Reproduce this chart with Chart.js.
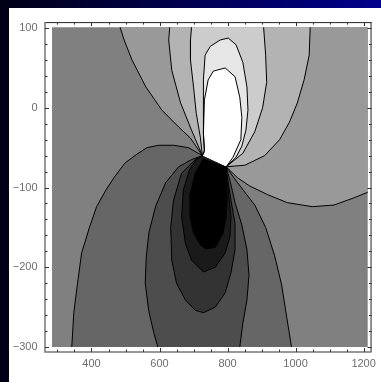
<!DOCTYPE html>
<html>
<head>
<meta charset="utf-8">
<script src="https://cdn.jsdelivr.net/npm/chart.js@4.4.1/dist/chart.umd.min.js"></script>
<style>
html, body { margin: 0; padding: 0; }
body { width: 381px; height: 382px; overflow: hidden; background: linear-gradient(to right, #000016, #00008c); }
#panel { position: absolute; left: 9px; top: 8px; width: 372px; height: 374px; background: #fff; }
</style>
</head>
<body>
<div id="panel"><canvas id="myChart" width="372" height="374"></canvas></div>
<script>
// plotted window, data units
const plotX = [284, 1212];
const plotY = [-300, 101];

// tick positions
const xTicks = [400, 600, 800, 1000, 1200];
const yTicks = [100, 0, -100, -200, -300];
const xMinor = [300, 350, 400, 450, 500, 550, 600, 650, 700, 750, 800, 850, 900, 950, 1000, 1050, 1100, 1150, 1200];
const yMinor = [-300, -280, -260, -240, -220, -200, -180, -160, -140, -120, -100, -80, -60, -40, -20, 0, 20, 40, 60, 80, 100];

// shading for the bands, darkest to lightest
const grays = ['#000000', '#1a1a1a', '#333333', '#4d4d4d', '#666666', '#808080',
               '#999999', '#b3b3b3', '#cccccc', '#e6e6e6', '#ffffff'];

// contour lines, [x, y]
// upper lobe
const line1L = [[484,101],[496,85],[519,60],[560,26],[607,-3],[656,-24],[691,-38],[726,-60]];
const line1R = [[796,-74],[830,-88],[865,-98],[918,-109],[976,-119],[1049,-124],[1113,-122],[1171,-113],[1212,-106]];
const line2L = [[630,101],[627,85],[636,47],[662,6],[694,-28],[723,-57],[726,-60]];
const line2R = [[1043,101],[1040,66],[1025,35],[1005,6],[982,-18],[953,-40],[909,-60],[851,-72],[796,-74]];
const line3L = [[694,101],[691,85],[691,60],[700,26],[708,-7],[720,-37],[726,-60]];
const line3R = [[906,101],[912,66],[915,32],[903,0],[880,-30],[845,-57],[796,-74]];
const loopE = [[726,-60],[732,-55],[729,-32],[729,2],[729,35],[734,66],[749,77],[778,85],[802,87.5],[825,79],[845,57],[857,26],[860,-3],[854,-28],[842,-48],[825,-62],[796,-74]];
const loopF = [[726,-60],[732,-53],[729,-32],[732,10],[743,35],[758,46],[793,50],[822,39],[836,13],[842,-12],[839,-40],[816,-62],[796,-74]];
// lower lobe
const lineGL = [[726,-60],[685,-50],[641,-47],[598,-47],[563,-50],[534,-58],[499,-69],[467,-87],[444,-102],[415,-124],[394,-150],[371,-182],[359,-220],[348,-257],[342,-300]];
const lineGR = [[796,-74],[819,-88],[851,-106],[880,-122],[912,-150],[938,-185],[959,-222],[973,-260],[988,-300]];
const lineHL = [[726,-60],[694,-65],[656,-74],[618,-94],[589,-123],[569,-156],[561,-187],[558,-220],[568,-254],[583,-282],[595,-300]];
const lineHR = [[796,-74],[807,-91],[822,-119],[842,-147],[857,-178],[863,-210],[857,-241],[845,-270],[836,-300]];
const loopI = [[726,-60],[705,-65],[665,-82],[641,-116],[633,-150],[636,-191],[650,-220],[676,-241],[705,-254],[729,-257],[764,-250],[793,-232],[810,-207],[822,-178],[822,-145],[810,-116],[801,-91],[796,-74]];
const loopJ = [[726,-60],[708,-65],[688,-78],[670,-103],[665,-137],[676,-170],[694,-191],[729,-206],[764,-200],[793,-182],[807,-162],[810,-137],[804,-112],[799,-87],[796,-74]];
const loopK = [[729,-64],[705,-82],[691,-107],[690,-137],[700,-157],[720,-172],[737,-177],[764,-175],[787,-157],[796,-137],[799,-112],[796,-87],[796,-74]];

function rev(a) { return a.slice().reverse(); }
function pts(a) { return a.map(p => ({x: p[0], y: p[1]})); }

// filled bands, painted back to front
const bands = [
  [[[plotX[0],plotY[0]],[plotX[1],plotY[0]],[plotX[1],plotY[1]],[plotX[0],plotY[1]]], grays[5]],
  [line1L.concat(line1R, [[plotX[1], plotY[1]]]), grays[6]],
  [line2L.concat(rev(line2R)), grays[7]],
  [line3L.concat(rev(line3R)), grays[8]],
  [loopE, grays[9]],
  [loopF, grays[10]],
  [rev(lineGL).concat(lineGR), grays[4]],
  [rev(lineHL).concat(lineHR), grays[3]],
  [loopI, grays[2]],
  [loopJ, grays[1]],
  [loopK, grays[0]]
];
const contours = [line1L, line1R, line2L, line2R, line3L, line3R, loopE, loopF,
                  lineGL, lineGR, lineHL, lineHR, loopI, loopJ, loopK];

var datasets = [];
bands.forEach(b => datasets.push({
  data: pts(b[0]), showLine: true, fill: 'shape', backgroundColor: b[1],
  borderColor: 'rgba(0,0,0,0)', borderWidth: 0, pointRadius: 0, tension: 0
}));
contours.forEach(c => datasets.push({
  data: pts(c), showLine: true, fill: false, borderColor: '#000', borderWidth: 1,
  pointRadius: 0, tension: 0
}));
// first dataset is drawn first
datasets.forEach((d, i) => d.order = datasets.length - i);

function fmt(v) { return v < 0 ? '\u2212' + Math.abs(v) : String(v); }

// frame with inward ticks on all sides
const framePlugin = {
  id: 'frame',
  afterDraw(chart) {
    const {ctx, chartArea: a, scales: {x, y}} = chart;
    ctx.save();
    ctx.lineWidth = 1;
    ctx.strokeStyle = '#222';
    ctx.beginPath();
    ctx.moveTo(a.left, a.top + 0.5); ctx.lineTo(a.right, a.top + 0.5);
    ctx.moveTo(a.right - 0.5, a.top); ctx.lineTo(a.right - 0.5, a.bottom);
    ctx.stroke();
    ctx.lineWidth = 1.5;
    ctx.strokeStyle = '#777';
    ctx.beginPath();
    ctx.moveTo(a.left, a.top); ctx.lineTo(a.left, a.bottom);
    ctx.lineTo(a.right, a.bottom);
    ctx.stroke();

    ctx.lineWidth = 1;
    ctx.strokeStyle = '#333';
    ctx.beginPath();
    xMinor.forEach(v => {
      const px = Math.round(x.getPixelForValue(v)) + 0.5;
      const len = xTicks.includes(v) ? 4 : 2.5;
      ctx.moveTo(px, a.bottom); ctx.lineTo(px, a.bottom - len);
      ctx.moveTo(px, a.top); ctx.lineTo(px, a.top + len);
    });
    yMinor.forEach(v => {
      const py = Math.round(y.getPixelForValue(v)) + 0.5;
      const len = yTicks.includes(v) ? 4 : 2.5;
      ctx.moveTo(a.left, py); ctx.lineTo(a.left + len, py);
      ctx.moveTo(a.right, py); ctx.lineTo(a.right - len, py);
    });
    ctx.stroke();
    ctx.restore();
  }
};

Chart.defaults.font.family = 'Liberation Sans, Arial, sans-serif';

var myChart = new Chart(document.getElementById('myChart'), {
  type: 'scatter',
  data: { datasets: datasets },
  options: {
    responsive: false,
    animation: false,
    layout: { padding: { top: 14, right: 6, left: 0, bottom: 0 } },
    plugins: { legend: { display: false }, tooltip: { enabled: false } },
    scales: {
      x: {
        type: 'linear', min: 263.3, max: 1223.3,
        afterBuildTicks: s => { s.ticks = xTicks.map(v => ({value: v})); },
        afterFit: s => { s.height = 30; },
        grid: { display: false, drawTicks: false },
        border: { display: false },
        ticks: { callback: fmt, color: '#6e6e6e', font: { size: 11 }, padding: 5, maxRotation: 0 }
      },
      y: {
        type: 'linear', min: -306.3, max: 107.5,
        afterBuildTicks: s => { s.ticks = yTicks.map(v => ({value: v})); },
        afterFit: s => { s.width = 36; },
        grid: { display: false, drawTicks: false },
        border: { display: false },
        ticks: { callback: fmt, color: '#6e6e6e', font: { size: 11 }, padding: 7.5 }
      }
    }
  },
  plugins: [framePlugin]
});
</script>
</body>
</html>
